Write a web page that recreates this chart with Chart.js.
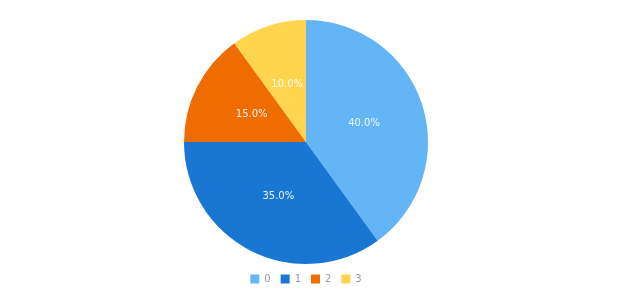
<!DOCTYPE html>
<html><head><meta charset="utf-8">
<script src="https://cdn.jsdelivr.net/npm/chart.js@4.4.0/dist/chart.umd.min.js"></script>
<style>html,body{margin:0;padding:0;background:#fff}#wrap{width:620px;height:300px}</style>
</head><body><div id="wrap"><canvas id="c"></canvas></div>
<script>
const categories = ['0', '1', '2', '3'];
const values = [40, 35, 15, 10];
const colors = ['#64B5F6', '#1976D2', '#EF6C00', '#FFD54F'];

const labelPlugin = {
  id: 'sliceLabels',
  afterDatasetsDraw(chart) {
    const ctx = chart.ctx;
    const meta = chart.getDatasetMeta(0);
    const total = values.reduce((a, b) => a + b, 0);
    ctx.save();
    ctx.font = '10px "DejaVu Sans", sans-serif';
    ctx.fillStyle = 'rgba(255,255,255,0.9)';
    ctx.textAlign = 'center';
    ctx.textBaseline = 'middle';
    meta.data.forEach((arc, i) => {
      const p = arc.tooltipPosition();
      ctx.fillText((values[i] / total * 100).toFixed(1) + '%', p.x, p.y);
    });
    ctx.restore();
  }
};

Chart.defaults.font.family = '"DejaVu Sans", sans-serif';
new Chart(document.getElementById('c'), {
  type: 'pie',
  data: { labels: categories, datasets: [{ data: values, backgroundColor: colors, borderWidth: 0 }] },
  options: {
    responsive: true, maintainAspectRatio: false, animation: false,
    layout: { padding: { top: 20, bottom: 6, right: 8 } },
    plugins: {
      legend: { position: 'bottom', labels: { boxWidth: 9, boxHeight: 9, padding: 10, color: '#999', font: { size: 10 } } },
      tooltip: { enabled: false }
    }
  },
  plugins: [labelPlugin]
});
</script></body></html>
